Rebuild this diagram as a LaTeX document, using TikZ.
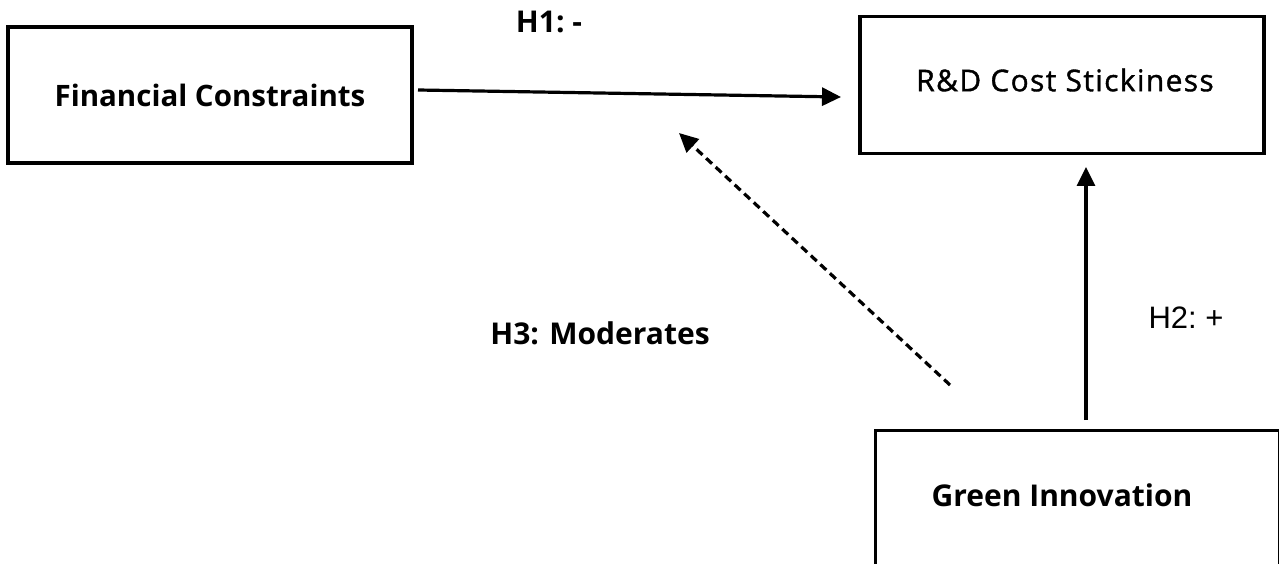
\documentclass[tikz,border=0pt]{standalone}
\usepackage{fontspec}
\setmainfont{Open Sans}
\newfontfamily\arialfont{Liberation Sans}
\newfontfamily\rdfont[FakeBold=1.2, LetterSpace=4.5]{Open Sans}
\usetikzlibrary{arrows.meta}
\tikzset{
  box/.style={draw, line width=3.4pt, inner sep=0pt},
  lbl/.style={font=\fontsize{29.5}{36}\selectfont\bfseries, inner sep=0pt},
  arr/.style={line width=3.2pt, -{Triangle[length=19pt,width=18pt]}},
}
\begin{document}
\begin{tikzpicture}[x=1pt,y=-1pt]
\clip (0,0) rectangle (1279,564);
\node[box, minimum width=404pt, minimum height=136pt, lbl] (fc) at (210,95) {Financial Constraints};
\node[box, minimum width=404pt, minimum height=137pt] (rd) at (1062,85) {};
\node[inner sep=0pt, font=\fontsize{30}{36}\rdfont] (rdt) at (1065,80) {R\&D Cost Stickiness};
\node[box, minimum width=404pt, minimum height=180pt, anchor=north west] (gi) at (874,429) {};
\node[lbl, font=\fontsize{30}{36}\selectfont\bfseries] (git) at (1062,495) {Green Innovation};
\coordinate (h1s) at (418,90);
\coordinate (h1e) at (841,97);
\draw[arr] (h1s) -- (h1e);
\coordinate (h2s) at (1086,420);
\coordinate (h2e) at (1086,167);
\draw[arr] (h2s) -- (h2e);
\coordinate (h3s) at (950,385);
\coordinate (h3e) at (679,133);
\draw[arr, dash pattern=on 8pt off 5pt] (h3s) -- (h3e);
\node[lbl, font=\fontsize{30}{36}\selectfont\bfseries] (l1) at (549,22) {H1:\ -};
\node[inner sep=0pt, font=\fontsize{31}{36}\selectfont\arialfont] (l2) at (1186,318) {H2:\ +};
\node[lbl, font=\fontsize{30}{36}\selectfont\bfseries] (l3) at (600,333) {H3: Moderates};
\end{tikzpicture}
\end{document}
